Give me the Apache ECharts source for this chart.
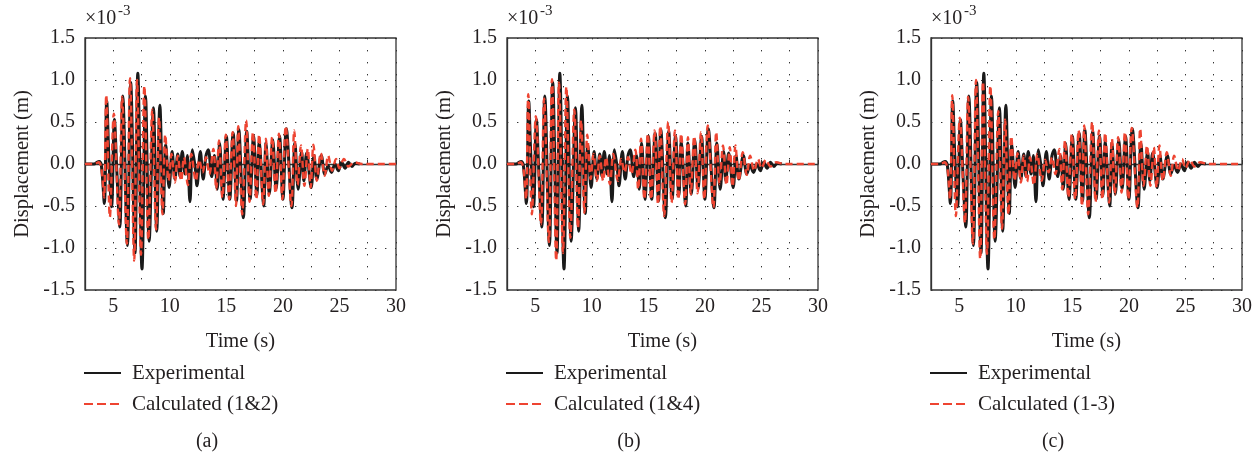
<!DOCTYPE html>
<html><head><meta charset="utf-8">
<script src="https://cdn.jsdelivr.net/npm/echarts@6/dist/echarts.min.js"></script>
<style>html,body{margin:0;padding:0;background:#fff}#c{width:1258px;height:456px}</style>
</head><body><div id="c"></div>
<script>
// Experimental record (time s, displacement x1e-3 m) — peaks
const expT = [2.5,3.3,3.55,3.75,3.95,4.21,4.42,4.62,4.85,5.1,
  5.32,5.58,5.84,6.25,6.54,6.92,7.17,7.54,7.85,8.17,
  8.55,8.84,9.12,9.42,9.64,9.94,10.2,10.45,10.7,10.9,
  11.1,11.35,11.55,11.78,12.0,12.25,12.4,12.7,12.95,13.2,
  13.4,13.7,13.95,14.2,14.4,14.7,15.0,15.3,15.6,15.9,
  16.1,16.5,16.8,17.1,17.4,17.7,17.9,18.3,18.5,18.8,
  19.1,19.4,19.7,20.0,20.3,20.8,21.06,21.35,21.65,21.85,
  22.1,22.5,22.75,23.0,23.4,23.7,24.0,24.3,24.6,24.9,
  25.2,25.5,25.8,26.1,26.4,26.8];
const expV = [0,0,0.02,0.03,-0.02,-0.47,0.75,0.05,-0.51,0.53,
  -0.1,-0.75,0.81,-0.97,0.97,-1.06,1.08,-1.25,0.81,-0.92,
  0.67,-0.8,0.7,-0.59,0.23,-0.28,0.15,-0.18,0.12,-0.15,
  0.15,-0.12,0.1,-0.45,0.17,-0.05,-0.26,0.15,-0.18,0.1,
  0.17,-0.15,0.1,-0.3,0.25,-0.42,0.33,-0.42,0.37,-0.44,
  0.41,-0.64,0.39,-0.42,0.33,-0.38,0.27,-0.5,0.25,-0.36,
  0.29,-0.3,0.33,-0.42,0.42,-0.52,0.25,-0.3,0.15,-0.2,
  0.13,-0.28,0.1,-0.18,0.1,-0.12,-0.02,-0.1,0.0,-0.08,
  0.02,-0.05,0.02,-0.03,0.01,0];

// Calculated records (shared time base)
const calcT = [2.5,3.3,3.7,3.95,4.18,4.38,4.7,5.05,5.5,5.78,
  6.2,6.48,6.85,7.1,7.45,7.75,8.1,8.45,8.78,9.05,
  9.35,9.6,9.9,10.15,10.45,10.7,11.0,11.25,11.6,11.9,
  12.3,12.6,12.9,13.2,13.5,13.85,14.1,14.35,14.65,14.95,
  15.25,15.55,15.85,16.05,16.4,16.75,17.05,17.35,17.65,17.9,
  18.25,18.5,18.75,19.05,19.35,19.65,19.95,20.25,20.75,21.0,
  21.3,21.6,21.9,22.2,22.45,22.7,23.0,23.35,23.7,24.0,
  24.35,24.7,25.0,25.4,25.8,26.3,27.0,30.0];
const calcAV = [0,0,0.02,-0.05,-0.4,0.82,-0.63,0.6,-0.72,0.8,
  -0.95,1.02,-1.15,1.0,-1.08,0.93,-0.9,0.65,-0.78,0.55,
  -0.6,0.35,-0.2,0.12,-0.22,0.1,-0.2,0.08,-0.25,0.12,
  -0.2,0.05,-0.1,0.08,-0.12,0.18,-0.3,0.28,-0.4,0.35,
  -0.42,0.38,-0.5,0.45,-0.6,0.52,-0.45,0.38,-0.42,0.35,
  -0.48,0.3,-0.38,0.32,-0.35,0.36,-0.42,0.45,-0.5,0.4,
  -0.25,0.22,-0.26,0.18,-0.28,0.23,-0.2,0.13,-0.14,0.1,
  -0.08,0.06,-0.05,0.06,-0.03,0.02,0,0];
const calcBV = [0,0,0.02,-0.05,-0.42,0.83,-0.6,0.57,-0.72,0.78,
  -0.93,1.01,-1.15,0.97,-1.06,0.92,-0.88,0.65,-0.76,0.52,
  -0.58,0.35,-0.18,0.12,-0.2,0.1,-0.2,0.08,-0.24,0.12,
  -0.2,0.06,-0.1,0.08,-0.12,0.17,-0.3,0.3,-0.42,0.36,
  -0.42,0.4,-0.48,0.45,-0.62,0.5,-0.46,0.4,-0.42,0.36,
  -0.48,0.32,-0.36,0.33,-0.35,0.38,-0.42,0.46,-0.52,0.38,
  -0.24,0.22,-0.25,0.2,-0.27,0.22,-0.2,0.14,-0.13,0.1,
  -0.08,0.06,-0.05,0.05,-0.03,0.02,0,0];
const calcCV = [0,0,0.02,-0.05,-0.42,0.82,-0.62,0.55,-0.7,0.8,
  -0.95,1.0,-1.13,0.98,-1.07,0.93,-0.9,0.63,-0.77,0.53,
  -0.6,0.33,-0.2,0.13,-0.22,0.1,-0.21,0.08,-0.25,0.12,
  -0.2,0.05,-0.1,0.08,-0.12,0.18,-0.3,0.28,-0.4,0.36,
  -0.42,0.4,-0.5,0.46,-0.6,0.5,-0.45,0.4,-0.42,0.37,
  -0.46,0.3,-0.36,0.32,-0.34,0.38,-0.42,0.43,-0.52,0.42,
  -0.26,0.22,-0.26,0.2,-0.28,0.22,-0.2,0.14,-0.14,0.1,
  -0.08,0.06,-0.05,0.05,-0.03,0.02,0,0];

const calcNames = ['Calculated (1&2)', 'Calculated (1&4)', 'Calculated (1-3)'];
const panelTags = ['(a)', '(b)', '(c)'];
const xTitle = 'Time (s)';
const yTitle = 'Displacement (m)';
const expName = 'Experimental';

const FONT = '"Liberation Serif", "DejaVu Serif", serif';
const TXT = '#231f20';
const BLACK = '#1a1a1a';
const RED = '#ee4431';
const lefts = [85, 507, 931];
const calcVals = [calcAV, calcBV, calcCV];
const zip = (a, b) => a.map((t, i) => [t, b[i]]);

const grids = [], xAxes = [], yAxes = [], series = [], graphics = [];
lefts.forEach((L, i) => {
  grids.push({left: L, top: 38, width: 311, height: 252, show: true, borderColor: '#333', borderWidth: 1.3});
  xAxes.push({
    gridIndex: i, type: 'value', min: 2.5, max: 30, interval: 2.5,
    axisLine: {show: true, lineStyle: {color: '#333', width: 1.3}},
    axisTick: {inside: true, length: 4, lineStyle: {color: '#333'}},
    axisLabel: {formatter: v => (v % 5 === 0 ? String(v) : ''), color: TXT, fontFamily: FONT, fontSize: 20, margin: 7},
    splitLine: {show: true, lineStyle: {color: '#333', width: 1, type: [1.4, 10.6]}},
    name: xTitle, nameLocation: 'middle', nameGap: 41,
    nameTextStyle: {color: TXT, fontFamily: FONT, fontSize: 20.5}
  });
  yAxes.push({
    gridIndex: i, type: 'value', min: -1.5, max: 1.5, interval: 0.5,
    axisLine: {show: true, lineStyle: {color: '#333', width: 1.3}},
    axisTick: {show: false},
    axisLabel: {formatter: v => v.toFixed(1), color: TXT, fontFamily: FONT, fontSize: 20, margin: 10},
    splitLine: {show: true, lineStyle: {color: '#333', width: 1, type: [1.4, 8.6]}},
    name: yTitle, nameLocation: 'middle', nameGap: 52, nameRotate: 90,
    nameTextStyle: {color: TXT, fontFamily: FONT, fontSize: 20.5}
  });
  series.push({
    name: expName, type: 'line', xAxisIndex: i, yAxisIndex: i, data: zip(expT, expV),
    showSymbol: false, symbol: 'none', smooth: 0.35, animation: false,
    lineStyle: {color: BLACK, width: 3}, itemStyle: {color: BLACK}
  });
  series.push({
    name: calcNames[i], type: 'line', xAxisIndex: i, yAxisIndex: i, data: zip(calcT, calcVals[i]),
    showSymbol: false, symbol: 'none', smooth: 0.35, animation: false,
    lineStyle: {color: RED, width: 2.4, type: [7, 4]}, itemStyle: {color: RED}
  });
  // legend keys (drawn as graphics)
  graphics.push({type: 'line', shape: {x1: L - 1, y1: 373, x2: L + 36, y2: 373}, style: {stroke: BLACK, lineWidth: 2.2}});
  graphics.push({type: 'line', shape: {x1: L - 1, y1: 404, x2: L + 36, y2: 404}, style: {stroke: RED, lineWidth: 2.2, lineDash: [9, 4]}});
  graphics.push({type: 'text', x: L + 47, y: 373, style: {text: expName, font: '21px ' + FONT, fill: TXT, verticalAlign: 'middle'}});
  graphics.push({type: 'text', x: L + 47, y: 404, style: {text: calcNames[i], font: '21px ' + FONT, fill: TXT, verticalAlign: 'middle'}});
  graphics.push({type: 'text', x: L, y: 9, style: {text: '×10', font: '20px ' + FONT, fill: TXT}});
  graphics.push({type: 'text', x: L + 33, y: 4, style: {text: '-3', font: '15px ' + FONT, fill: TXT}});
  graphics.push({type: 'text', x: L + 122, y: 442, style: {text: panelTags[i], font: '20px ' + FONT, fill: TXT, align: 'center', verticalAlign: 'middle'}});
});

const chart = echarts.init(document.getElementById('c'), null, {renderer: 'canvas'});
chart.setOption({
  backgroundColor: '#fff', animation: false,
  grid: grids, xAxis: xAxes, yAxis: yAxes, series: series, graphic: graphics
});
</script></body></html>
